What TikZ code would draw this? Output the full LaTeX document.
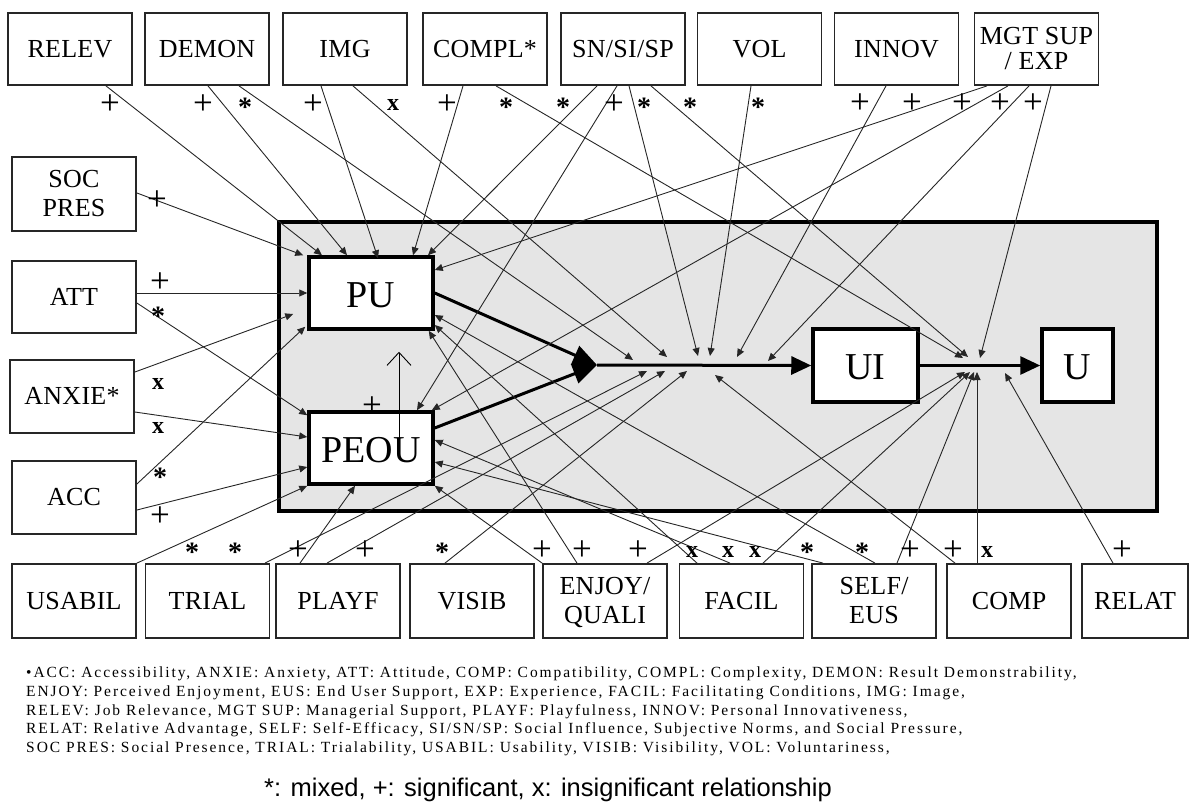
\documentclass[tikz,border=0pt]{standalone}
\usepackage{fontspec}
\setmainfont{Liberation Serif}
\newfontfamily\labfont[LetterSpace=1]{Liberation Serif}
\newfontfamily\legfont[LetterSpace=12.5]{Liberation Serif}
\newfontfamily\arialfont{Liberation Sans}
\usetikzlibrary{arrows.meta}
\newcommand\lbl[1]{\raisebox{-2.5pt}[\height][\depth]{\begin{tabular}{@{}c@{}}#1\end{tabular}}}
\begin{document}
\begin{tikzpicture}[x=1pt,y=-1pt,
  box/.style={draw=black!85, line width=1.8pt, fill=white, minimum width=124pt, minimum height=72pt, inner sep=0pt, align=center, font=\labfont\fontsize{26}{29}\selectfont},
  core/.style={draw=black, line width=3.5pt, fill=white, inner sep=0pt, font=\fontsize{38}{40}\selectfont},
  arr/.style={draw=black!85, line width=0.9pt, -{Triangle[length=8pt,width=7pt]}},
  flow/.style={line width=3pt, -{Triangle[length=20pt,width=18pt]}},
  jflow/.style={line width=3pt, -{Triangle[length=24pt,width=20pt]}},
  mk/.style={inner sep=0pt, font=\fontsize{35}{35}\selectfont},
  mb/.style={inner sep=0pt, font=\bfseries\fontsize{24}{24}\selectfont},
  ms/.style={inner sep=0pt, font=\bfseries\fontsize{28}{28}\selectfont},
  leg/.style={inner sep=0pt, anchor=base west, font=\legfont\fontsize{15.5}{17}\selectfont}
]
\useasboundingbox (0,0) rectangle (1189,803);

% system box
\node[draw=black, line width=4pt, fill=gray!20, minimum width=878pt, minimum height=289pt, inner sep=0pt] (sys) at (718,366.5) {};

% top boxes
\node[box] (relev) at (70,49) {\lbl{RELEV}};
\node[box] (demon) at (207,49) {\lbl{DEMON}};
\node[box] (img) at (345,49) {\lbl{IMG}};
\node[box] (compl) at (485,49) {\lbl{COMPL*}};
\node[box] (sn) at (623,49) {\lbl{SN/SI/SP}};
\node[box] (vol) at (759.5,49) {\lbl{VOL}};
\node[box] (innov) at (896.5,49) {\lbl{INNOV}};
\node[box] (mgt) at (1036.5,49) {\lbl{MGT SUP\\[-4pt]/ EXP}};
% left boxes
\node[box, minimum height=74pt] (socpres) at (74,194) {\lbl{SOC\\PRES}};
\node[box] (att) at (74,297) {\lbl{ATT}};
\node[box, minimum height=73pt] (anxie) at (72,396.5) {\lbl{ANXIE*}};
\node[box, minimum height=73pt] (acc) at (74,497.5) {\lbl{ACC}};
% bottom boxes
\node[box, minimum height=74pt] (usabil) at (74,601) {\lbl{USABIL}};
\node[box, minimum height=74pt] (trial) at (207.5,601) {\lbl{TRIAL}};
\node[box, minimum height=74pt] (playf) at (338,601) {\lbl{PLAYF}};
\node[box, minimum height=74pt] (visib) at (472,601) {\lbl{VISIB}};
\node[box, minimum height=74pt] (enjoy) at (605,601) {\lbl{ENJOY/\\QUALI}};
\node[box, minimum height=74pt] (facil) at (741.5,601) {\lbl{FACIL}};
\node[box, minimum height=74pt] (self) at (874,601) {\lbl{SELF/\\EUS}};
\node[box, minimum height=74pt] (comp) at (1009,601) {\lbl{COMP}};
\node[box, minimum height=74pt, minimum width=106pt] (relat) at (1135,601) {\lbl{RELAT}};

% core boxes
\node[core, minimum width=124pt, minimum height=72pt] (pu) at (371,293) {\raisebox{-2pt}[\height][\depth]{PU}};
\node[core, minimum width=124pt, minimum height=72pt] (peou) at (371,448) {\raisebox{-2pt}[\height][\depth]{PEOU}};
\node[core, minimum width=105pt, minimum height=73pt] (ui) at (865.5,365.5) {\raisebox{-2pt}[\height][\depth]{UI}};
\node[core, minimum width=71pt, minimum height=73pt] (u) at (1077.5,365.5) {\raisebox{-2pt}[\height][\depth]{U}};

% junction points
\coordinate (J) at (597,365);
\coordinate (a1) at (633,360);
\coordinate (a2) at (667,357);
\coordinate (a3) at (698,356);
\coordinate (a4) at (710,356);
\coordinate (a5) at (737,357);
\coordinate (a6) at (768,361);
\coordinate (b1) at (647,371);
\coordinate (b2) at (665,371);
\coordinate (b3) at (687,371);
\coordinate (b4) at (715,375);
\coordinate (c1) at (963,358);
\coordinate (c2) at (968,357);
\coordinate (c3) at (980,358);
\coordinate (d1) at (965,372);
\coordinate (d2) at (970,372);
\coordinate (d3) at (974,372);
\coordinate (d4) at (977,372);
\coordinate (d5) at (1005,373);

% main flow
\draw[jflow] (pu.east) -- (J);
\draw[jflow] ([yshift=20pt]peou.east) -- (J);
\draw[flow] (J) -- (ui.west);
\draw[flow] (ui.east) -- (u.west);

% top sources
\draw[arr] ([xshift=36pt]relev.south) -- ([xshift=-49pt]pu.north);
\draw[arr] ([xshift=1pt]demon.south) -- ([xshift=-24pt]pu.north);
\draw[arr] ([xshift=32pt]demon.south) -- (a1);
\draw[arr] ([xshift=-24pt]img.south) -- ([xshift=7pt,yshift=-3pt]pu.north);
\draw[arr] ([xshift=8pt]img.south) -- (a2);
\draw[arr] ([xshift=-22pt]compl.south) -- ([xshift=42pt]pu.north);
\draw[arr] ([xshift=11pt]compl.south) -- (c1);
\draw[arr] ([xshift=-26pt]sn.south) -- ([xshift=57pt]pu.north);
\draw[arr] ([xshift=-6pt]sn.south) -- ([xshift=46pt]peou.north);
\draw[arr] ([xshift=6pt]sn.south) -- (a3);
\draw[arr] ([xshift=28pt]sn.south) -- (c2);
\draw[arr] ([xshift=-8.5pt]vol.south) -- (a4);
\draw[arr] ([xshift=-10.5pt]innov.south) -- (a5);
\draw[arr] ([xshift=-49.5pt]mgt.south) -- ([yshift=23pt]pu.east);
\draw[arr] ([xshift=-28.5pt]mgt.south) -- ([xshift=-3pt]peou.north east);
\draw[arr] ([xshift=-7.5pt]mgt.south) -- (a6);
\draw[arr] ([xshift=14.5pt]mgt.south) -- (c3);

% left sources
\draw[arr] ([yshift=1pt]socpres.east) -- ([xshift=-4pt]pu.north west);
\draw[arr] ([yshift=4pt]att.east) -- (pu.west);
\draw[arr] ([yshift=-6pt]att.east) -- ([yshift=-5pt]peou.north west);
\draw[arr] ([yshift=24.5pt]anxie.east) -- ([xshift=-14pt,yshift=-21pt]pu.west);
\draw[arr] ([yshift=-15.5pt]anxie.east) -- ([yshift=11pt]peou.west);
\draw[arr] ([yshift=13.5pt]acc.east) -- ([xshift=-2pt,yshift=4pt]pu.south west);
\draw[arr] ([yshift=-12.5pt]acc.east) -- ([yshift=-19pt]peou.west);
\draw[arr] (usabil.north east) -- (peou.south west);

% bottom sources
\draw[arr] ([xshift=57.5pt]trial.north) -- (b1);
\draw[arr] ([xshift=-38pt]playf.north) -- ([xshift=-16pt]peou.south);
\draw[arr] ([xshift=-11pt]playf.north) -- (b2);
\draw[arr] ([xshift=-27pt]visib.north) -- (b3);
\draw[arr] (enjoy.north west) -- (peou.south east);
\draw[arr] ([xshift=-28pt]enjoy.north) -- ([xshift=-6pt]pu.south east);
\draw[arr] ([xshift=42pt]enjoy.north) -- (d1);
\draw[arr] ([xshift=-44.5pt]facil.north) -- ([yshift=-32pt]pu.east);
\draw[arr] ([xshift=-11.5pt]facil.north) -- ([yshift=8pt]peou.east);
\draw[arr] ([xshift=21.5pt]facil.north) -- (d2);
\draw[arr] ([xshift=-51pt]self.north) -- ([yshift=-14pt]peou.east);
\draw[arr] ([xshift=1pt]self.north) -- ([yshift=-22pt]pu.east);
\draw[arr] ([xshift=23pt]self.north) -- (d3);
\draw[arr] ([xshift=-54pt]comp.north) -- (b4);
\draw[arr] ([xshift=-32pt]comp.north) -- (d4);
\draw[arr] ([xshift=-22pt]relat.north) -- (d5);

% PEOU -> PU
\draw[line width=0.9pt, -{Straight Barb[length=13pt,width=24pt]}] ([xshift=28pt,yshift=-8pt]peou.center) -- ([xshift=28pt,yshift=-21pt]pu.south);

% markers
\foreach \x/\y [count=\i] in {110/105,203/105,313/105,447/105,614/105,860/104,912/104,962/104,1000/104,1033/104,157/201,160/283,160/517,298/551,365/551,542/551,582/551,638/551,910/551,953/551,1122/551,372/407}
  \node[mk] (plus\i) at (\x,\y) {+};
\foreach \x/\y [count=\i] in {245/107,506/107,563/107,644/107,690/107,758/107,158/316,160/477,192/552,235/552,442/552,807/552,862/552}
  \node[ms] (star\i) at (\x,\y) {*};
\foreach \x/\y [count=\i] in {393/105,158/384,158/428,692/552,728/552,755/552,987/552}
  \node[mb] (cross\i) at (\x,\y) {x};

% legend
\node[leg] (l1) at (26,677) {•ACC: Accessibility, ANXIE: Anxiety, ATT: Attitude, COMP: Compatibility, COMPL: Complexity, DEMON: Result Demonstrability,};
\node[leg] (l2) at (26,696) {ENJOY: Perceived Enjoyment, EUS: End User Support, EXP: Experience, FACIL: Facilitating Conditions, IMG: Image,};
\node[leg] (l3) at (26,715) {RELEV: Job Relevance, MGT SUP: Managerial Support, PLAYF: Playfulness, INNOV: Personal Innovativeness,};
\node[leg] (l4) at (26,733) {RELAT: Relative Advantage, SELF: Self-Efficacy, SI/SN/SP: Social Influence, Subjective Norms, and Social Pressure,};
\node[leg] (l5) at (26,752) {SOC PRES: Social Presence, TRIAL: Trialability, USABIL: Usability, VISIB: Visibility, VOL: Voluntariness,};
\node[inner sep=0pt, anchor=base west, font=\arialfont\fontsize{25.5}{27}\selectfont] (l6) at (264,796) {*: mixed, +: significant, x: insignificant relationship};
\end{tikzpicture}
\end{document}
